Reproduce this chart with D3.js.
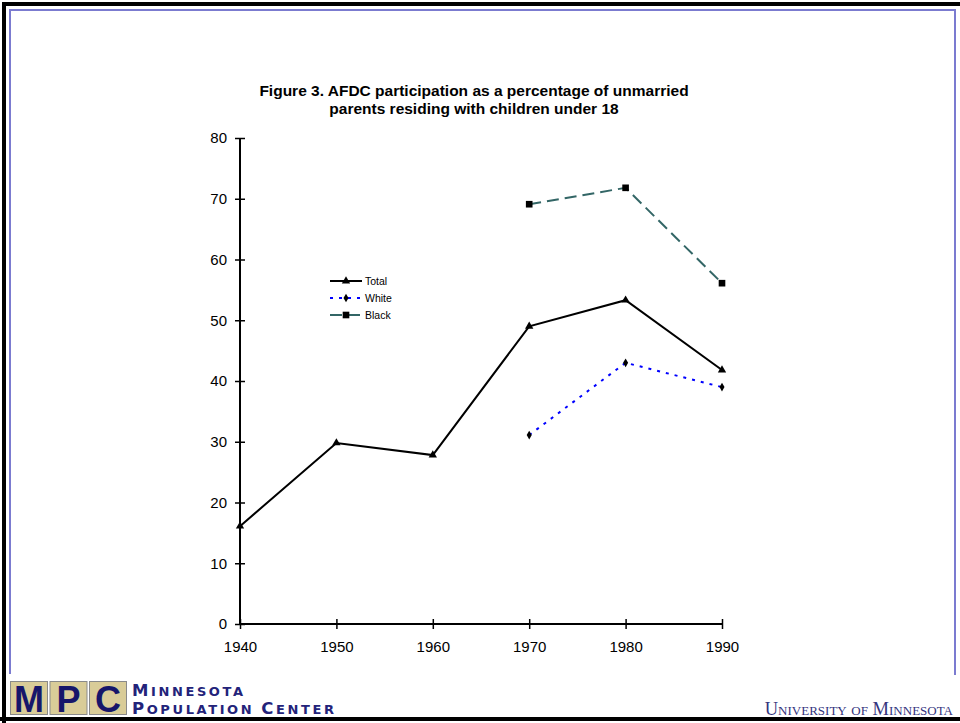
<!DOCTYPE html>
<html>
<head>
<meta charset="utf-8">
<script src="https://cdn.jsdelivr.net/npm/d3@7"></script>
<style>
  body { margin: 0; background: #fff; }
  svg { display: block; }
</style>
</head>
<body>
<div id="chart"></div>
<script>
const years = [1940, 1950, 1960, 1970, 1980, 1990];
const totalVals = [16.1, 29.8, 27.8, 49.0, 53.3, 41.8];
const whiteVals = [null, null, null, 31.1, 43.0, 39.0];
const blackVals = [null, null, null, 69.1, 71.8, 56.1];
const yTicks = [0, 10, 20, 30, 40, 50, 60, 70, 80];
const seriesNames = ["Total", "White", "Black"];

const W = 960, H = 723;
const svg = d3.select("#chart").append("svg")
    .attr("width", W).attr("height", H)
    .style("font-family", "Liberation Sans, Arial, sans-serif");

// frame
svg.append("rect").attr("x", 0).attr("y", 0).attr("width", W).attr("height", H).attr("fill", "#fff");
svg.append("path").attr("d", "M4,723 V4 H960").attr("fill", "none").attr("stroke", "#000").attr("stroke-width", 4);
svg.append("path").attr("d", "M0,719 H960").attr("stroke", "#000").attr("stroke-width", 4);
svg.append("path").attr("d", "M10,674 V10 H955 V675").attr("fill", "none").attr("stroke", "#7b7bd0").attr("stroke-width", 2);

const x = d3.scaleLinear().domain([1940, 1990]).range([240, 722]);
const y = d3.scaleLinear().domain([0, 80]).range([624, 138]);

// title
const title = svg.append("text").attr("x", 474).attr("y", 96)
    .attr("text-anchor", "middle").attr("font-size", 15.5).attr("font-weight", "bold");
title.append("tspan").attr("x", 474).text("Figure 3. AFDC participation as a percentage of unmarried");
title.append("tspan").attr("x", 474).attr("dy", 18).text("parents residing with children under 18");

// axes
const yAxis = svg.append("g").attr("transform", "translate(240,0)")
    .call(d3.axisLeft(y).tickValues(yTicks).tickSize(5).tickPadding(8));
yAxis.selectAll(".tick line").attr("x2", 5).attr("x1", -5);
const xAxis = svg.append("g").attr("transform", "translate(0,624)")
    .call(d3.axisBottom(x).tickValues(years).tickFormat(d3.format("d")).tickSize(5).tickPadding(12));
xAxis.selectAll(".tick line").attr("y1", -5).attr("y2", 5);
[yAxis, xAxis].forEach(a => {
  a.select(".domain").attr("stroke", "#000").attr("stroke-width", 2);
  a.selectAll(".tick line").attr("stroke", "#000").attr("stroke-width", 1.5);
  a.selectAll("text").attr("font-size", 15).attr("fill", "#000")
      .style("font-family", "Liberation Sans, Arial, sans-serif");
});
yAxis.select(".domain").attr("d", `M0,${y(80)}V${y(0)}`);
xAxis.select(".domain").attr("d", `M${x(1940)},0H${x(1990)}`);

// series
const series = [
  {name: seriesNames[0], vals: totalVals, color: "#000", dash: null, sym: d3.symbolTriangle, size: 30},
  {name: seriesNames[1], vals: whiteVals, color: "#0000ff", dash: "3,6", sym: d3.symbolDiamond, size: 22},
  {name: seriesNames[2], vals: blackVals, color: "#336666", dash: "12,6", sym: d3.symbolSquare, size: 44}
];

const line = d3.line().defined(d => d[1] != null).x(d => x(d[0])).y(d => y(d[1]));

series.forEach(s => {
  const pts = years.map((yr, i) => [yr, s.vals[i]]);
  svg.append("path").datum(pts).attr("d", line)
      .attr("fill", "none").attr("stroke", s.color).attr("stroke-width", 2)
      .attr("stroke-dasharray", s.dash);
  svg.selectAll(null).data(pts.filter(d => d[1] != null)).enter().append("path")
      .attr("d", d3.symbol().type(s.sym).size(s.size))
      .attr("transform", d => `translate(${x(d[0])},${y(d[1])})`)
      .attr("fill", "#000");
});

// legend
const legend = svg.append("g").selectAll("g").data(series).enter().append("g")
    .attr("transform", (d, i) => `translate(330,${281 + i * 17})`);
legend.append("line").attr("x1", 0).attr("x2", 32)
    .attr("stroke", d => d.color).attr("stroke-width", 2).attr("stroke-dasharray", d => d.dash);
legend.append("path").attr("d", d => d3.symbol().type(d.sym).size(d.size)())
    .attr("transform", "translate(16,0)").attr("fill", "#000");
legend.append("text").attr("x", 35).attr("dy", "0.35em").attr("font-size", 10.5).text(d => d.name);

// MPC logo
const logo = svg.append("g");
["M", "P", "C"].forEach((ch, i) => {
  logo.append("rect").attr("x", 10.5 + i * 39.5).attr("y", 681.5).attr("width", 37).attr("height", 33)
      .attr("fill", "#d9cc98").attr("stroke", "#8a8a8a").attr("stroke-width", 1);
  logo.append("text").attr("x", 29 + i * 39.5).attr("y", 712).attr("text-anchor", "middle")
      .attr("font-size", 36).attr("font-weight", "bold").attr("fill", "#16166a")
      .style("font-family", "Liberation Sans, Arial, sans-serif").text(ch);
});
const logoLines = [["M", "INNESOTA"], ["P", "OPULATION ", "C", "ENTER"]];
logoLines.forEach((parts, li) => {
  const t = logo.append("text").attr("x", 132).attr("y", 696 + li * 18)
      .attr("letter-spacing", 2.6).attr("fill", "#23237a").attr("font-weight", "600")
      .style("font-family", "DejaVu Sans, sans-serif");
  parts.forEach((p, j) => t.append("tspan").attr("font-size", j % 2 === 0 ? 16.5 : 13).text(p));
});

svg.append("text").attr("x", 953).attr("y", 715).attr("text-anchor", "end").attr("font-size", 18.5)
    .style("font-variant", "small-caps").style("font-family", "Liberation Serif, Times New Roman, serif")
    .attr("fill", "#34347e").text("University of Minnesota");
</script>
</body>
</html>
